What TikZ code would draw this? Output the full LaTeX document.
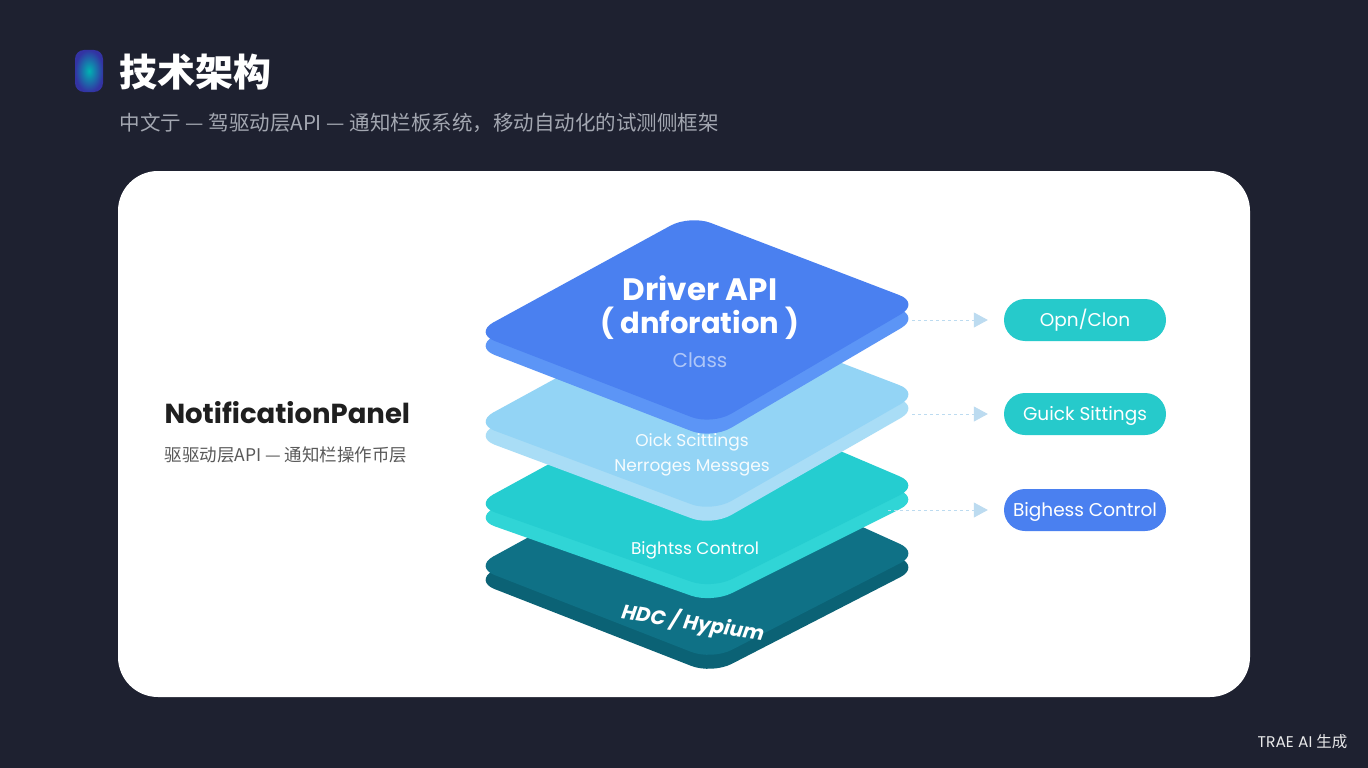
\documentclass[tikz,border=0pt]{standalone}
\usepackage{fontspec}
\setmainfont{Poppins}
\newfontfamily\cjk{Noto Sans CJK SC}
\usetikzlibrary{arrows.meta,positioning}
\definecolor{bgc}{HTML}{1E2130}
\definecolor{subc}{HTML}{A3A7B1}
\definecolor{apic}{HTML}{4A80F0}
\definecolor{apis}{HTML}{5C95F6}
\definecolor{qsc}{HTML}{93D4F5}
\definecolor{qss}{HTML}{A9DDF6}
\definecolor{bcc}{HTML}{25CDD0}
\definecolor{bcs}{HTML}{30D5D6}
\definecolor{hdcc}{HTML}{0F7186}
\definecolor{hdcs}{HTML}{0B6275}
\definecolor{arrc}{HTML}{BCDBF0}
\definecolor{pillc}{HTML}{26CACB}
\tikzset{flow/.style={draw=arrc,dashed,line width=0.8pt,shorten >=16pt,-{Triangle[width=15pt,length=14pt,fill=arrc]}}}
\begin{document}
\begin{tikzpicture}[x=1pt,y=-1pt]
	\fill[bgc] (0,0) rectangle (1368,768);
	\useasboundingbox (0,0) rectangle (1368,768);

	% header
	\shade[rounded corners=9pt,inner color=teal!60!cyan,outer color=blue!55!black!80] (75,50) rectangle (103,92);
	\node[anchor=west,text=white] (title) at (116,72) {\cjk\bfseries\fontsize{38}{40}\selectfont 技术架构};
	\node[anchor=west,text=subc] (sub) at (116,123) {\cjk\fontsize{20.5}{23}\selectfont 中文亍 — 驾驱动层API — 通知栏板系统，移动自动化的试测侧框架};
	\node[anchor=east,text=white!90!bgc] (trae) at (1351,742) {\fontsize{15.5}{17}\selectfont TRAE AI {\cjk 生成}};

	% card
	\fill[white,rounded corners=40pt] (118,171) rectangle (1250,697);

	\node[anchor=west,text=black!88] (panel) at (161,413) {\bfseries\fontsize{27.5}{30}\selectfont NotificationPanel};
	\node[anchor=west,text=black!65] (psub) at (161,455) {\cjk\fontsize{17.5}{20}\selectfont 驱驱动层API — 通知栏操作币层};

	% layers, bottom first
	\foreach \y/\r/\b/\tc/\sc in {567/-14/101/hdcc/hdcs, 505/-20/92/bcc/bcs, 423/-30/97/qsc/qss, 333/-30/100/apic/apis}{
		\fill[\sc,rounded corners=22pt] (474,{\y+14}) -- (690,{\y-104}) -- (920,{\y+\r+14}) -- (712,{\y+\b+6}) -- cycle;
		\fill[\tc,rounded corners=22pt] (474,\y) -- (690,{\y-118}) -- (920,{\y+\r}) -- (712,{\y+\b-8}) -- cycle;
	}

	\begin{scope}[every node/.style={text=white,font=\bfseries}]
		\node (api) at (700,288) {\fontsize{31}{34}\selectfont Driver API};
		\node (inf) at (700,323) {\fontsize{29}{32}\selectfont ( dnforation )};
		\node (hdc) at (693,623) [rotate=-9,font=\bfseries\itshape] {\fontsize{20}{23}\selectfont HDC / Hypium};
	\end{scope}
	\node[text=apic!45!white] (cls) at (700,360) {\fontsize{20}{23}\selectfont Class};
	\node[text=white!92!qsc] (qs) at (692,442) {\fontsize{17}{19}\selectfont Oick Scittings};
	\node[text=white!92!qsc] (msg) at (692,468) {\fontsize{17}{19}\selectfont Nerroges Messges};
	\node[text=white] (bc) at (695,550) {\fontsize{17}{20}\selectfont Bightss Control};

	% pills
	\begin{scope}[every node/.style={minimum width=162pt,minimum height=42pt,rounded corners=21pt,text=white,text height=13pt,text depth=0pt,font=\fontsize{18.5}{21}\selectfont}]
		\node[fill=pillc] (p1) at (1085,320) {Opn/Clon};
		\node[fill=pillc] (p2) at (1085,414) {Guick Sittings};
		\node[fill=apic] (p3) at (1085,510) {Bighess Control};
	\end{scope}

	\coordinate (e1) at (912,320);
	\coordinate (e2) at (912,414);
	\coordinate (e3) at (888,510);

	\draw[flow] (e1) -- (p1.west);
	\draw[flow] (e2) -- (p2.west);
	\draw[flow] (e3) -- (p3.west);
\end{tikzpicture}
\end{document}
